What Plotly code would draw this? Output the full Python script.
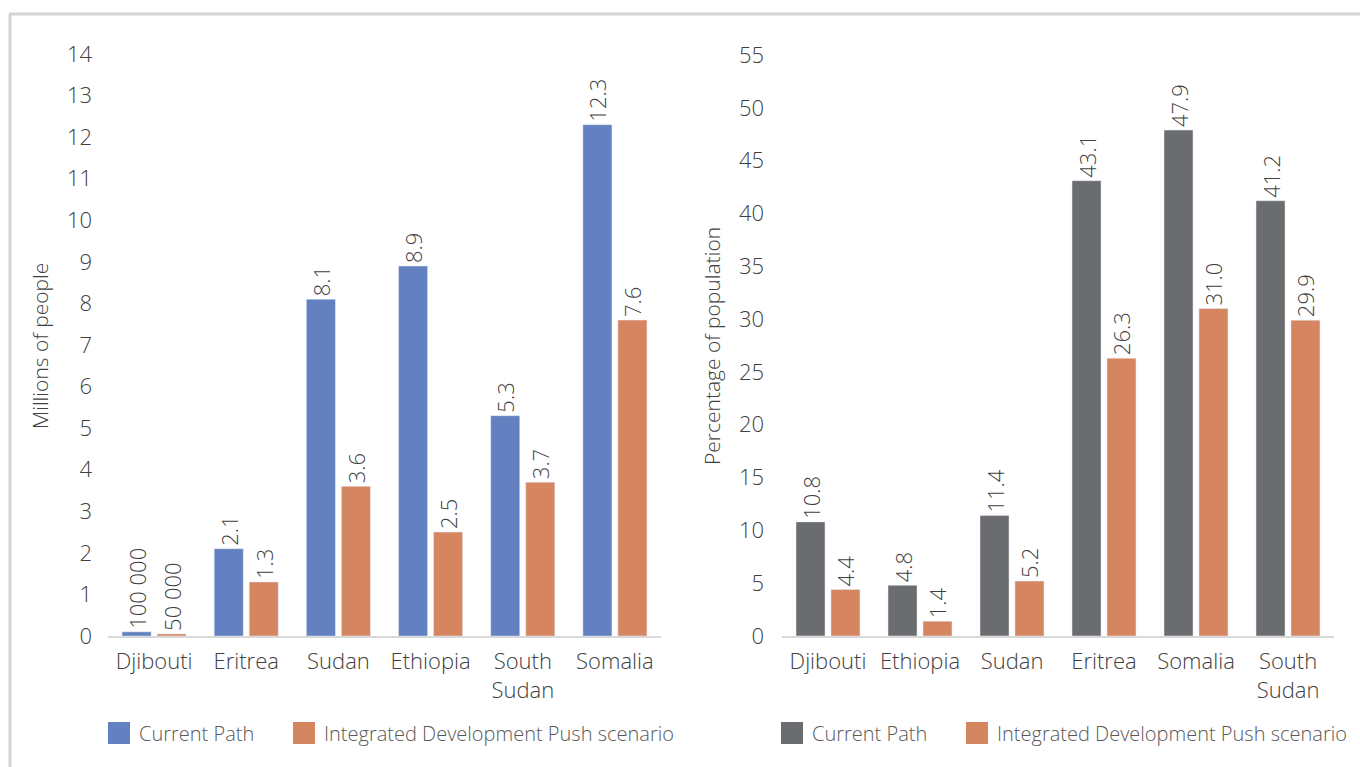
import plotly.graph_objects as go

# ---------------- data ----------------
left_categories = ["Djibouti", "Eritrea", "Sudan", "Ethiopia", "South<br>Sudan", "Somalia"]
left_current = [0.1, 2.1, 8.1, 8.9, 5.3, 12.3]
left_idp = [0.05, 1.3, 3.6, 2.5, 3.7, 7.6]
left_current_labels = ["100 000", "2.1", "8.1", "8.9", "5.3", "12.3"]
left_idp_labels = ["50 000", "1.3", "3.6", "2.5", "3.7", "7.6"]

right_categories = ["Djibouti", "Ethiopia", "Sudan", "Eritrea", "Somalia", "South<br>Sudan"]
right_current = [10.8, 4.8, 11.4, 43.1, 47.9, 41.2]
right_idp = [4.4, 1.4, 5.2, 26.3, 31.0, 29.9]
right_current_labels = ["10.8", "4.8", "11.4", "43.1", "47.9", "41.2"]
right_idp_labels = ["4.4", "1.4", "5.2", "26.3", "31.0", "29.9"]

left_ticks = list(range(0, 15))
right_ticks = list(range(0, 56, 5))

series_names = ["Current Path", "Integrated Development Push scenario"]
left_title = "Millions of people"
right_title = "Percentage of population"

# ---------------- style ----------------
W, H = 1360, 767
FONT = "Open Sans"
TXT = "#404040"
LEG_TXT = "#595959"
BLUE = "#6381C1"
ORANGE = "#D68561"
GREY = "#6B6C70"
AXIS_LINE = "#D9D9D9"


def px(x):
    return x / W


def py(y):
    return (H - y) / H


fig = go.Figure()

text_font = dict(family=FONT, size=22, color=TXT, weight=300)

bar_common = dict(textposition="outside", textangle=-90, textfont=text_font,
                  constraintext="none", cliponaxis=False, showlegend=False)

fig.add_trace(go.Bar(x=left_categories, y=left_current, text=left_current_labels,
                     marker_color=BLUE, name=series_names[0], xaxis="x", yaxis="y", **bar_common))
fig.add_trace(go.Bar(x=left_categories, y=left_idp, text=left_idp_labels,
                     marker_color=ORANGE, name=series_names[1], xaxis="x", yaxis="y", **bar_common))
fig.add_trace(go.Bar(x=right_categories, y=right_current, text=right_current_labels,
                     marker_color=GREY, name=series_names[0], xaxis="x2", yaxis="y2", **bar_common))
fig.add_trace(go.Bar(x=right_categories, y=right_idp, text=right_idp_labels,
                     marker_color=ORANGE, name=series_names[1], xaxis="x2", yaxis="y2", **bar_common))

tick_font = dict(family=FONT, size=22, color=TXT, weight=300)

xcommon = dict(type="category", showgrid=False, zeroline=False, showline=True,
               linecolor=AXIS_LINE, linewidth=2, ticks="", tickfont=tick_font,
               ticklabelstandoff=5, fixedrange=True, automargin=False)
ycommon = dict(showgrid=False, zeroline=False, showline=False, ticks="",
               tickfont=tick_font, fixedrange=True, automargin=False)

fig.update_layout(
    width=W, height=H, autosize=False,
    margin=dict(l=0, r=0, t=0, b=0, pad=0),
    paper_bgcolor="white", plot_bgcolor="white",
    barmode="group", bargap=0.24, bargroupgap=0.17,
    font=dict(family=FONT, color=TXT),
    xaxis=dict(domain=[px(108), px(661)], anchor="y", **xcommon),
    yaxis=dict(domain=[py(636), py(54)], anchor="x", range=[0, 14],
               tickvals=left_ticks, ticklabelstandoff=15, **ycommon),
    xaxis2=dict(domain=[px(782), px(1334)], anchor="y2", **xcommon),
    yaxis2=dict(domain=[py(636), py(55)], anchor="x2", range=[0, 55],
                tickvals=right_ticks, ticklabelstandoff=17, **ycommon),
)

# axis titles
ann = [
    dict(text=left_title, x=px(40), y=py(346), textangle=-90),
    dict(text=right_title, x=px(712), y=py(346), textangle=-90),
]
for a in ann:
    fig.add_annotation(xref="paper", yref="paper", showarrow=False,
                       xanchor="center", yanchor="middle",
                       font=dict(family=FONT, size=21, color=TXT, weight=300), **a)

# legends (drawn manually to match large swatches)
legend_rows = [
    (108, BLUE, 139, 293, 324),
    (781, GREY, 812, 966, 997),
]
for sx1, c1, tx1, sx2, tx2 in legend_rows:
    for sx, col, tx, name in [(sx1, c1, tx1, series_names[0]), (sx2, ORANGE, tx2, series_names[1])]:
        fig.add_shape(type="rect", xref="paper", yref="paper",
                      x0=px(sx), x1=px(sx + 22), y0=py(744), y1=py(722),
                      fillcolor=col, line=dict(width=0))
        fig.add_annotation(xref="paper", yref="paper", showarrow=False,
                           x=px(tx - 2), y=py(733), xanchor="left", yanchor="middle",
                           text=name, font=dict(family=FONT, size=20, color=LEG_TXT, weight=300))

# frame lines (outer border of the original figure)
fig.add_shape(type="line", xref="paper", yref="paper", x0=px(9), x1=1, y0=py(14), y1=py(14),
              line=dict(color="#D3D4D6", width=3))
fig.add_shape(type="line", xref="paper", yref="paper", x0=px(10), x1=px(10), y0=py(14), y1=0,
              line=dict(color="#D3D4D6", width=3))

fig.write_html("out.html", config={"responsive": False, "displayModeBar": False},
               post_script="document.body.style.margin='0';document.body.style.overflow='hidden';")
